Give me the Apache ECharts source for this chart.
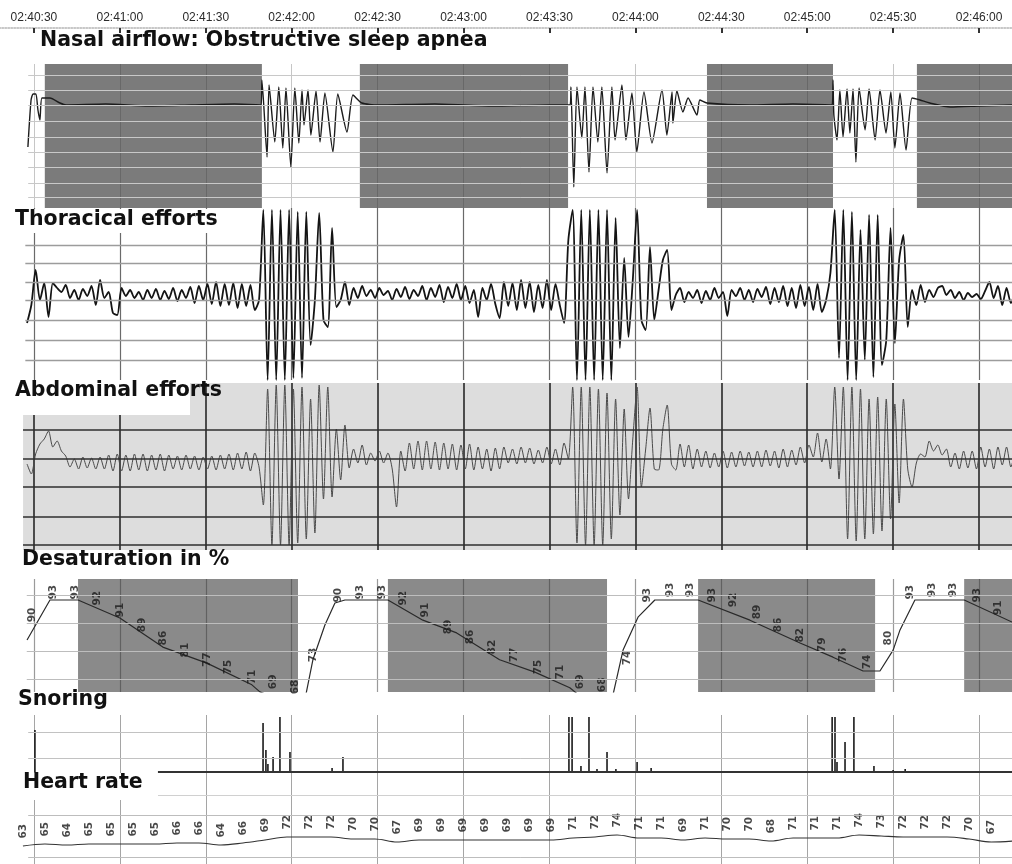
<!DOCTYPE html>
<html><head><meta charset="utf-8">
<script src="https://cdn.jsdelivr.net/npm/echarts@6/dist/echarts.min.js"></script>
<style>html,body{margin:0;padding:0;background:#fff}#c{width:1012px;height:864px}</style>
</head><body><div id="c"></div>
<script>
// ---------- tick labels (value -30..330 s from 02:40:30) ----------
const tickLabels = ['02:40:00','02:40:30','02:41:00','02:41:30','02:42:00','02:42:30','02:43:00','02:43:30','02:44:00','02:44:30','02:45:00','02:45:30','02:46:00'];

// ---------- Nasal airflow (time s, amplitude) ----------
const nasalTimes = [-2.1,-1.0,-0.3,0.7,1.4,2.1,2.8,5.6,9.1,11.2,25,40,55,70,79.3,
 79.6,81.4,82.1,84.1,85.5,86.9,88.0,89.7,91.1,92.5,93.6,94.3,95.7,96.7,98.5,99.9,101.6,104.4,106.1,109.3,111.4,114.5,
 120,140,160,180,187.2,
 187.5,188.5,189.6,191.3,192.4,193.8,195.2,196.9,198.3,200.1,201.8,202.9,205.3,206.7,208.8,210.5,213.0,215.8,219.3,221.0,222.8,223.1,224.5,226.6,228.4,231.5,232.5,235.0,
 250,265,278.7,
 279.0,279.3,280.4,281.4,282.5,283.9,284.9,286.0,287.0,288.1,290.2,291.6,293.7,295.4,297.5,299.2,300.6,302.4,304.5,306.6,309.4,312.8,
 320,330,341.5];
const nasalValues = [-42,5,11,11,-5,-15,7,7,2,0,1,-1,0,1,0,
 25,-52,20,-37,18,-43,17,-62,17,-38,15,-20,15,-30,14,-37,12,-47,11,-27,10,2,
 0,1,-1,0,0,
 18,-82,18,-33,18,-67,18,-37,18,-68,18,-35,20,-35,12,-47,13,-38,15,-30,13,-18,14,-7,7,-10,5,2,
 0,1,0,
 25,-10,-35,15,-32,16,-28,16,-57,17,-25,16,-35,15,-28,13,-43,12,-45,7,5,2,
 -2,-1,0];
const apneaStarts = [3.8, 113.8, 235.0, 308.3];
const apneaEnds   = [79.6, 186.5, 279.0, 341.5];

// ---------- Thoracic & abdominal efforts: samples every 1.5 s from -2.4 s ----------
const effortStart = -2.4, effortStep = 1.5;
const thoracicValues = [
 -23,-5,30,0,17,-17,17,12,8,15,2,10,0,11,4,14,-5,20,2,8,-13,-15,12,4,10,2,8,0,10,2,11,0,9,1,12,-1,10,2,13,-3,14,0,16,-4,18,-6,16,-5,17,-8,16,-6,15,-10,0,
 90,-80,90,-80,90,-80,90,-78,88,-78,88,-45,0,87,-20,-27,72,-7,0,18,-5,
 12,2,14,4,10,2,12,5,9,0,11,3,13,1,10,4,14,0,12,3,15,-2,13,2,16,0,14,-3,10,-17,12,0,16,-4,-18,18,-6,17,-10,20,-8,18,-12,15,-8,20,-10,16,-5,-23,
 60,90,-80,90,-80,90,-80,90,-80,90,-80,82,-48,42,-37,20,90,-20,-30,53,-20,10,40,50,-10,5,12,
 -2,8,2,10,-3,9,0,12,2,8,-16,10,4,12,0,10,-2,11,3,13,-4,12,-2,14,-6,12,-8,15,-6,13,-10,16,-12,
 0,27,90,-58,90,-80,88,-80,70,-60,85,-77,85,-65,-40,72,-43,40,65,-27,10,
 -5,15,-2,10,3,12,14,5,10,2,8,0,7,3,6,1,9,18,2,14,-5,12,-3,10];
const abdominalValues = [
 -5,-15,5,15,20,28,12,18,8,3,-8,0,-10,2,-9,1,-10,2,-10,4,-12,5,-12,4,-12,5,-11,5,-12,4,-11,5,-12,4,-10,3,-11,4,-10,3,-11,2,-10,3,-11,4,-10,5,-11,6,-10,7,-12,6,-8,
 -46,70,-86,74,-86,74,-86,70,-84,72,-80,60,-74,74,-40,72,-38,30,-21,34,-9,
 10,-4,14,-6,6,-2,8,-4,6,-10,-48,8,-12,16,-10,18,-11,18,-10,17,-11,16,-10,15,-11,14,-10,15,-11,12,-10,10,-12,11,-10,12,-4,10,-5,12,-4,11,-5,9,-4,12,-5,10,-6,16,
 0,72,-84,72,-86,72,-86,70,-86,66,-80,60,-56,50,-40,20,72,-28,10,51,-10,-11,30,54,-5,-11,15,
 -8,14,-10,10,-8,8,-9,6,-8,8,-9,7,-8,8,-7,7,-8,8,-8,9,-7,8,-9,10,-8,9,-6,12,-4,14,2,26,-3,
 20,-10,72,-20,72,-80,72,-82,70,-80,60,-75,62,-72,60,-60,55,-44,60,-10,-28,
 -4,5,2,18,8,14,4,10,-8,6,-10,8,-9,8,-10,12,-8,10,-10,12,-6,12,-8,8];

// ---------- Desaturation (SpO2 %) ----------
const spo2Times  = [-2.4,5.6,15.4,30.0,45.0,60.4,76.1,78.9,85.9,94.6,97.4,101.6,105.1,108.6,123.6,135.8,147.6,162.6,174.9,187.1,192.3,201.8,205.7,211.0,216.8,231.9,250.0,267.5,279.0,289.5,295.4,300.0,302.4,307.6,324.8,341.5];
const spo2Values = [82.3,93,93,88.2,80.4,76.1,70.3,68.4,66.3,66.3,77,86.3,92.2,93,93,87.6,84.2,77.0,73.7,69.5,66.3,66.3,79.6,88.5,93,93,87.6,81.5,77.7,74,74,79.6,85,93,93,87.1];
const desatStarts = [15.4, 123.6, 231.9, 324.8];
const desatEnds   = [92.2, 200.1, 293.7, 341.5];
const spo2LabelTimes  = [-0.7,6.6,14.3,22.0,30.0,37.7,45.0,52.7,60.4,67.7,76.1,83.5,91.1, 97.4,106.1,
 113.8,121.5,128.8,136.5,144.6,152.2,159.9,167.6,176.0,183.7,190.7,198.3,
 207.1,214.1,222.1,229.1,236.8,244.1,252.5,259.8,267.5,275.2,282.5,290.9,298.2,
 305.9,313.6,320.9,329.3,336.6];
const spo2LabelLevels = [89.0,95.1,95.1,93.5,90.3,86.3,82.8,79.6,77.0,75.1,72.4,71.1,69.7, 78.3,94.3,
 95.1,95.1,93.5,90.3,85.8,83.1,80.4,78.3,75.1,73.7,71.1,70.3,
 77.5,94.3,95.7,95.7,94.3,93.0,89.8,86.3,83.6,81.0,78.3,76.4,82.8,
 95.1,95.7,95.7,94.3,90.9];
const spo2LabelTexts  = ['90','93','93','92','91','89','86','81','77','75','71','69','68','73','90',
 '93','93','92','91','89','86','82','77','75','71','69','68',
 '74','93','93','93','93','92','89','86','82','79','76','74','80',
 '93','93','93','93','91'];

// ---------- Snoring ----------
const snoreTimes   = [0.35,80.0,81.0,81.7,83.5,85.9,89.4,104.1,107.9,186.8,187.9,191.0,193.8,196.6,200.1,203.2,210.6,215.5,278.7,279.7,280.4,283.2,286.3,293.3,300.0,304.2];
const snoreHeights = [42,49,22,8,15,55,20,4,15,55,55,6,55,3,20,3,10,4,55,55,10,30,55,6,2,3];

// ---------- Heart rate (bpm), one reading every 7.68 s from -3.84 s ----------
const hrStart = -3.84, hrStep = 7.683;
const hrValues = [63,65,64,65,65,65,65,66,66,64,66,69,72,72,72,70,70,67,69,69,69,69,69,69,69,71,72,74,71,71,69,71,70,70,68,71,71,71,74,73,72,72,72,70,67,68];

// ---------- gridline levels ----------
const nasalGrid = [30,15,0,-16,-32,-47,-62,-78,-92];
const thoracicGrid = [55,37,18,0,-20,-40,-60];
const abdominalGrid = [29,0,-28,-58,-86];
const desatGrid = [94.3,86.8,79.4,71.9];
const snoreGrid = [40,14];
const heartGrid = [94,52];

const X_MIN = -30, X_MAX = 341.5;
const chart = echarts.init(document.getElementById('c'), null, {renderer:'canvas'});

function grid(top, height) { return {left:-52, right:0, top, height, containLabel:false, outerBoundsMode:'none'}; }
function xAx(i, color, width, extra) {
  return Object.assign({gridIndex:i, type:'value', min:X_MIN, max:X_MAX, interval:30,
    axisLine:{show:false}, axisTick:{show:false}, axisLabel:{show:false},
    splitLine:{show:true, showMinLine:false, showMaxLine:false, lineStyle:{color, width}}}, extra||{});
}
function yAx(i, min, max) { return {gridIndex:i, type:'value', min, max, show:false}; }
function gridLines(i, values, color, width, fromT) {
  return {type:'line', xAxisIndex:i, yAxisIndex:i, data:[], silent:true, z:1,
    markLine:{silent:true, symbol:'none', animation:false, label:{show:false},
      lineStyle:{color, width, type:'solid'},
      emphasis:{disabled:true},
      data: values.map(v => [{coord:[fromT, v]}, {coord:[X_MAX, v]}])}};
}
function boxes(i, starts, ends, color) {
  return {type:'line', xAxisIndex:i, yAxisIndex:i, data:[], silent:true, z:2,
    markArea:{silent:true, animation:false, itemStyle:{color}, emphasis:{disabled:true},
      data: starts.map((s,k) => [{xAxis:s}, {xAxis:ends[k]}])}};
}
function sig(i, data, color, width, extra) {
  return Object.assign({type:'line', xAxisIndex:i, yAxisIndex:i, data, symbol:'none', showSymbol:false,
    silent:true, z:3, lineStyle:{color, width}}, extra||{});
}

const snoreData = [];
snoreTimes.forEach((t,k) => { snoreData.push([t,0],[t,snoreHeights[k]],[t,0],[t,'-']); });

const lblStyle = {fontSize:10.5, fontWeight:'bold', color:'#1a1a1a', fontFamily:'DejaVu Sans'};

const option = {
  backgroundColor:'#fff',
  animation:false,
  grid: [grid(27,1), grid(64,144), grid(208,172), grid(383,167), grid(579,113), grid(715,57), grid(772,92)],
  xAxis: [
    {gridIndex:0, type:'value', position:'top', min:X_MIN, max:X_MAX, interval:30,
      axisLine:{show:true, lineStyle:{color:'#b5b5b5', width:1.5, type:'dotted'}},
      axisTick:{show:true, inside:true, length:5, lineStyle:{color:'#333', width:2}},
      splitLine:{show:false},
      axisLabel:{show:true, margin:3, fontSize:12, color:'#2a2a2a', fontFamily:'Liberation Sans',
        showMaxLabel:false,
        formatter: v => { const k = Math.round((v - X_MIN)/30); return (Math.abs(v - X_MIN - k*30) < 1e-6) ? (tickLabels[k]||'') : ''; }}},
    xAx(1, '#c6c6c6', 1),
    xAx(2, '#6a6a6a', 1.2),
    xAx(3, '#2e2e2e', 1.6),
    xAx(4, '#9a9a9a', 1.2),
    xAx(5, '#a5a5a5', 1),
    xAx(6, '#a5a5a5', 1)
  ],
  yAxis: [yAx(0,0,1), yAx(1,-103,41), yAx(2,-80,92), yAx(3,-91,76), yAx(4,68.38,98.62), yAx(5,0,57), yAx(6,45,137)],
  series: [
    gridLines(1, nasalGrid, '#c8c8c8', 1, -2),
    boxes(1, apneaStarts, apneaEnds, 'rgba(55,55,55,0.66)'),
    sig(1, nasalTimes.map((t,k)=>[t,nasalValues[k]]), '#1c1c1c', 1.4, {smooth:0.2}),
    gridLines(2, thoracicGrid, '#9c9c9c', 1.4, -3),
    sig(2, thoracicValues.map((v,k)=>[effortStart+k*effortStep, v]), '#141414', 1.8, {smooth:0.25}),
    boxes(3, [-3.8], [X_MAX], 'rgba(0,0,0,0.135)'),
    gridLines(3, abdominalGrid, '#2e2e2e', 1.6, -3.8),
    sig(3, abdominalValues.map((v,k)=>[effortStart+k*effortStep, v]), '#4a4a4a', 1, {smooth:0.25}),
    gridLines(4, desatGrid, '#bdbdbd', 1.2, -2.5),
    boxes(4, desatStarts, desatEnds, 'rgba(60,60,60,0.6)'),
    sig(4, spo2Times.map((t,k)=>[t,spo2Values[k]]), '#2a2a2a', 1.2),
    {type:'scatter', xAxisIndex:4, yAxisIndex:4, silent:true, z:4, symbolSize:1,
      itemStyle:{color:'rgba(0,0,0,0)'},
      data: spo2LabelTimes.map((t,k)=>[t, spo2LabelLevels[k], spo2LabelTexts[k]]),
      label: Object.assign({show:true, position:'inside', rotate:90, formatter:p=>p.value[2]}, lblStyle)},
    gridLines(5, snoreGrid, '#c2c2c2', 1, -2),
    gridLines(5, [0], '#333', 2, 43.3),
    sig(5, snoreData, '#1a1a1a', 1.6, {connectNulls:false}),
    gridLines(6, [114], '#d0d0d0', 1, 43.3),
    gridLines(6, heartGrid, '#bdbdbd', 1, -2),
    sig(6, hrValues.map((v,k)=>[hrStart+k*hrStep, v]), '#333', 1.1, {smooth:0.35}),
    {type:'scatter', xAxisIndex:6, yAxisIndex:6, silent:true, z:4, symbolSize:1,
      itemStyle:{color:'rgba(0,0,0,0)'},
      data: hrValues.map((v,k)=>[hrStart+k*hrStep, v]),
      label: Object.assign({show:true, position:'top', distance:7, rotate:90, align:'left', verticalAlign:'middle', formatter:p=>String(p.value[1])}, lblStyle)}
  ],
  graphic: [
    {type:'rect', z:100, silent:true, shape:{x:0,y:209,width:232,height:24}, style:{fill:'#fff'}},
    {type:'rect', z:100, silent:true, shape:{x:0,y:381,width:190,height:34}, style:{fill:'#fff'}},
    {type:'rect', z:100, silent:true, shape:{x:0,y:773,width:158,height:27}, style:{fill:'#fff'}},
    {type:'text', z:101, silent:true, x:40, y:41, style:{text:'Nasal airflow: Obstructive sleep apnea', font:'bold 20.5px "DejaVu Sans"', fill:'#111', verticalAlign:'middle'}},
    {type:'text', z:101, silent:true, x:15, y:220, style:{text:'Thoracical efforts', font:'bold 20.5px "DejaVu Sans"', fill:'#111', verticalAlign:'middle'}},
    {type:'text', z:101, silent:true, x:15, y:391, style:{text:'Abdominal efforts', font:'bold 20.5px "DejaVu Sans"', fill:'#111', verticalAlign:'middle'}},
    {type:'text', z:101, silent:true, x:22, y:560, style:{text:'Desaturation in %', font:'bold 20.5px "DejaVu Sans"', fill:'#111', verticalAlign:'middle'}},
    {type:'text', z:101, silent:true, x:18, y:700, style:{text:'Snoring', font:'bold 20.5px "DejaVu Sans"', fill:'#111', verticalAlign:'middle'}},
    {type:'text', z:101, silent:true, x:23, y:783, style:{text:'Heart rate', font:'bold 20.5px "DejaVu Sans"', fill:'#111', verticalAlign:'middle'}}
  ]
};
chart.setOption(option);
</script>
</body></html>
